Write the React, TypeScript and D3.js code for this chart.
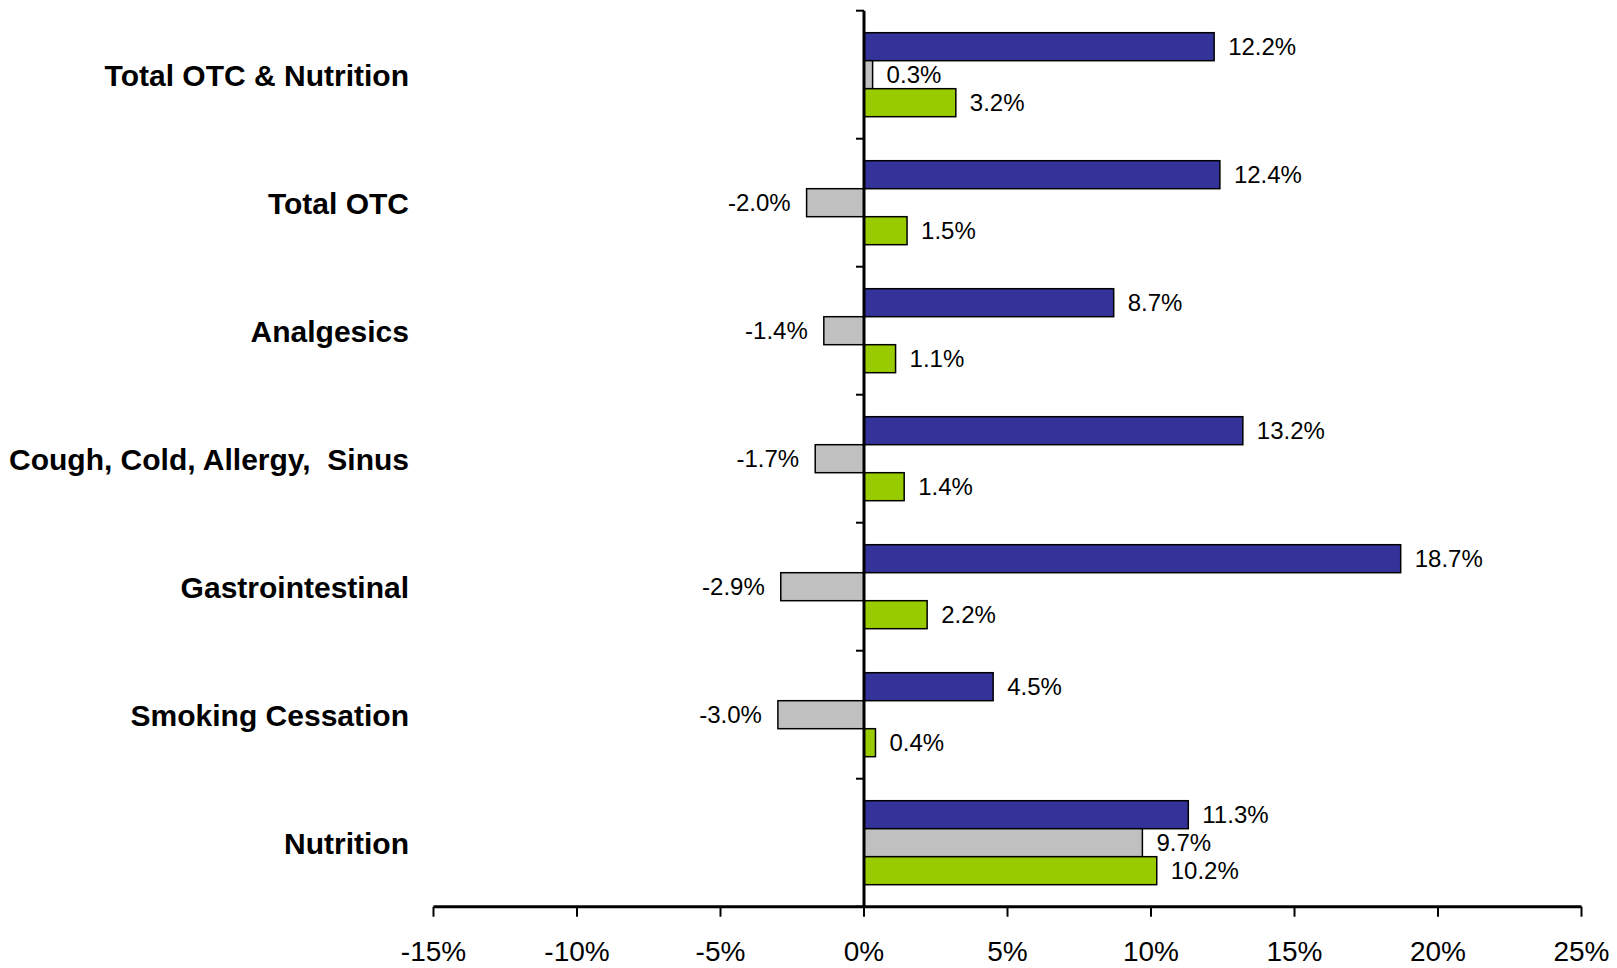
import React from 'react';
import * as d3 from 'd3';

const categories = [
  'Total OTC & Nutrition',
  'Total OTC',
  'Analgesics',
  'Cough, Cold, Allergy,  Sinus',
  'Gastrointestinal',
  'Smoking Cessation',
  'Nutrition',
];

const seriesKeys = ['s1', 's2', 's3'];
const seriesColors = ['#333399', '#C0C0C0', '#99CC00'];

const s1Values = [12.2, 12.4, 8.7, 13.2, 18.7, 4.5, 11.3];
const s2Values = [0.3, -2.0, -1.4, -1.7, -2.9, -3.0, 9.7];
const s3Values = [3.2, 1.5, 1.1, 1.4, 2.2, 0.4, 10.2];

const xTicks = [-15, -10, -5, 0, 5, 10, 15, 20, 25];

const W = 1617;
const H = 968;

export default function App() {
  const allSeries = [s1Values, s2Values, s3Values];

  const x = d3.scaleLinear().domain([-15, 25]).range([433.5, 1581.5]);
  const y = d3.scaleBand<string>().domain(categories).range([10.7, 906.7]).padding(0);
  const sub = d3
    .scaleBand<string>()
    .domain(seriesKeys)
    .range([0, y.bandwidth()])
    .paddingInner(0)
    .paddingOuter(0.786);

  const x0 = x(0);
  const axisY = y.range()[1];
  // category boundaries for the y axis ticks
  const bounds = categories.map((c) => y(c) as number).concat([axisY]);

  const fmt = (v: number) => v.toFixed(1) + '%';
  const font = '"Liberation Sans", Arial, Helvetica, sans-serif';

  return (
    <svg
      width={W}
      height={H}
      style={{ position: 'absolute', left: 0, top: 0, background: '#fff' }}
    >
      {/* bars */}
      {categories.map((cat, ci) => (
        <g key={cat} transform={`translate(0,${y(cat)})`}>
          {allSeries.map((vals, si) => {
            const v = vals[ci];
            const by = sub(seriesKeys[si]) as number;
            const xa = Math.min(x(v), x0);
            const w = Math.abs(x(v) - x0);
            return (
              <rect
                key={si}
                x={xa}
                y={by}
                width={w}
                height={sub.bandwidth()}
                fill={seriesColors[si]}
                stroke="#000"
                strokeWidth={1.5}
              />
            );
          })}
          {allSeries.map((vals, si) => {
            const v = vals[ci];
            const by = (sub(seriesKeys[si]) as number) + sub.bandwidth() / 2;
            const pos = v >= 0;
            return (
              <text
                key={'l' + si}
                x={pos ? x(v) + 14 : x(v) - 16}
                y={by}
                dy="0.36em"
                textAnchor={pos ? 'start' : 'end'}
                fontFamily={font}
                fontSize={24}
                fill="#000"
              >
                {fmt(v)}
              </text>
            );
          })}
        </g>
      ))}

      {/* category labels */}
      {categories.map((cat) => (
        <text
          key={'c' + cat}
          x={409}
          y={(y(cat) as number) + y.bandwidth() / 2}
          dy="0.36em"
          textAnchor="end"
          fontFamily={font}
          fontWeight="bold"
          fontSize={30}
          fill="#000"
          style={{ whiteSpace: 'pre' }}
        >
          {cat}
        </text>
      ))}

      {/* y axis */}
      {bounds.map((b, i) => (
        <line key={'yt' + i} x1={x0 - 8} x2={x0} y1={b} y2={b} stroke="#000" strokeWidth={2} />
      ))}
      <line x1={x0} x2={x0} y1={y.range()[0]} y2={axisY} stroke="#000" strokeWidth={3} />

      {/* x axis */}
      <line x1={x(-15)} x2={x(25)} y1={axisY} y2={axisY} stroke="#000" strokeWidth={3} />
      {xTicks.map((t) => (
        <g key={'xt' + t}>
          <line x1={x(t)} x2={x(t)} y1={axisY} y2={axisY + 10} stroke="#000" strokeWidth={2} />
          <text
            x={x(t)}
            y={961}
            textAnchor="middle"
            fontFamily={font}
            fontSize={28}
            fill="#000"
          >
            {t + '%'}
          </text>
        </g>
      ))}
    </svg>
  );
}
